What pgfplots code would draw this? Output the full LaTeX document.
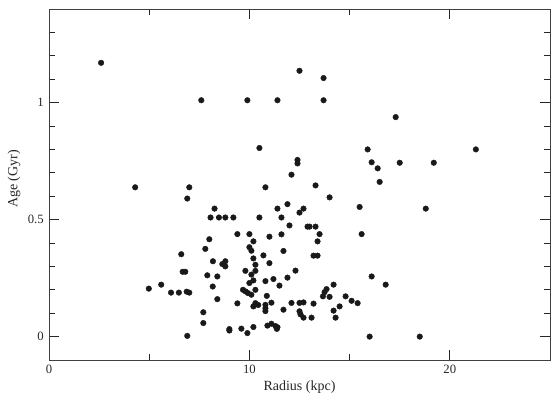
\documentclass[border=0pt]{standalone}
\usepackage{fontspec}
\setmainfont{Liberation Serif}
\usepackage{pgfplots}
\pgfplotsset{compat=1.18}
\pgfplotstableread{
x y
2.6 1.17
7.6 1.01
9.9 1.01
11.4 1.01
12.5 1.136
13.7 1.105
13.7 1.01
10.5 0.806
17.3 0.938
15.9 0.80
21.3 0.80
4.3 0.638
7.0 0.638
10.8 0.638
6.9 0.59
12.4 0.755
12.4 0.74
16.1 0.745
17.5 0.743
19.2 0.743
16.4 0.719
12.1 0.692
16.5 0.661
13.3 0.646
14.0 0.595
11.9 0.566
15.5 0.554
18.8 0.547
12.7 0.547
12.5 0.53
11.6 0.509
12.0 0.475
12.9 0.47
13.0 0.47
13.3 0.47
11.6 0.437
13.5 0.438
15.6 0.438
13.4 0.407
11.7 0.366
13.2 0.346
13.4 0.346
12.3 0.282
11.9 0.252
16.1 0.257
16.8 0.222
11.5 0.218
14.2 0.222
13.85 0.203
13.75 0.19
13.67 0.172
14.0 0.17
14.8 0.172
15.1 0.153
15.4 0.143
14.5 0.129
14.2 0.111
14.3 0.081
13.2 0.141
12.7 0.146
12.5 0.144
12.5 0.108
12.55 0.095
12.7 0.081
13.1 0.081
16.0 0.0
18.5 0.0
12.1 0.144
11.7 0.115
8.26 0.547
11.4 0.547
8.06 0.509
8.48 0.509
8.8 0.509
9.2 0.509
10.5 0.509
9.4 0.438
10.0 0.438
11.0 0.427
8.0 0.416
10.2 0.407
7.8 0.375
10.0 0.382
10.1 0.367
6.6 0.352
10.7 0.347
10.2 0.334
8.18 0.322
8.65 0.31
8.8 0.322
8.8 0.3
11.0 0.314
10.3 0.307
6.67 0.277
6.8 0.277
9.8 0.281
10.3 0.281
10.1 0.265
7.9 0.262
8.4 0.257
10.8 0.237
10.2 0.24
11.2 0.246
10.0 0.229
5.6 0.222
8.17 0.214
4.98 0.205
9.68 0.2
9.81 0.193
9.93 0.186
10.1 0.179
10.3 0.2
6.09 0.188
6.48 0.188
6.87 0.192
7.0 0.188
10.87 0.174
8.4 0.16
11.1 0.145
9.4 0.142
10.2 0.129
10.3 0.143
10.44 0.135
10.8 0.136
10.8 0.121
10.8 0.109
7.7 0.104
7.7 0.058
9.0 0.032
9.0 0.026
9.6 0.034
9.9 0.015
10.2 0.041
10.9 0.047
11.1 0.055
11.3 0.045
11.4 0.04
11.37 0.033
6.9 0.003
}\data
\begin{document}
\fontsize{12.5}{15}\selectfont
\begin{tikzpicture}
\begin{axis}[
  scale only axis, width=501pt, height=351pt,
  xmin=0, xmax=25, ymin=-0.1, ymax=1.4,
  xtick={0,10,20}, minor xtick={5,15},
  ytick={0,0.5,1}, minor ytick={0.1,0.2,0.3,0.4,0.6,0.7,0.8,0.9,1.1,1.2,1.3},
  tick align=inside,
  major tick length=10pt, minor tick length=6pt,
  every tick/.style={black!85, line width=0.8pt},
  axis line style={black!75, line width=0.9pt},
  /pgf/number format/assume math mode=true,
  ticklabel style={font=\fontsize{12.7}{15}\selectfont, text=black!85},
  xlabel={Radius (kpc)}, ylabel={Age (Gyr)},
  label style={font=\fontsize{14}{16}\selectfont, text=black!85},
  xticklabel style={yshift=-1pt},
  yticklabel style={xshift=-1pt},
  xlabel style={at={(axis description cs:0.5,0)}, anchor=base, yshift=-30pt},
  ylabel style={at={(axis description cs:0,0.516)}, anchor=center, yshift=35pt},
  clip=false,
]
\addplot[only marks, mark=*, mark size=2.8pt, color=black!90] table {\data};
\end{axis}
\path ([shift={(-49pt,-40pt)}]current axis.south west) rectangle ([shift={(10pt,9pt)}]current axis.north east);
\end{tikzpicture}
\end{document}
